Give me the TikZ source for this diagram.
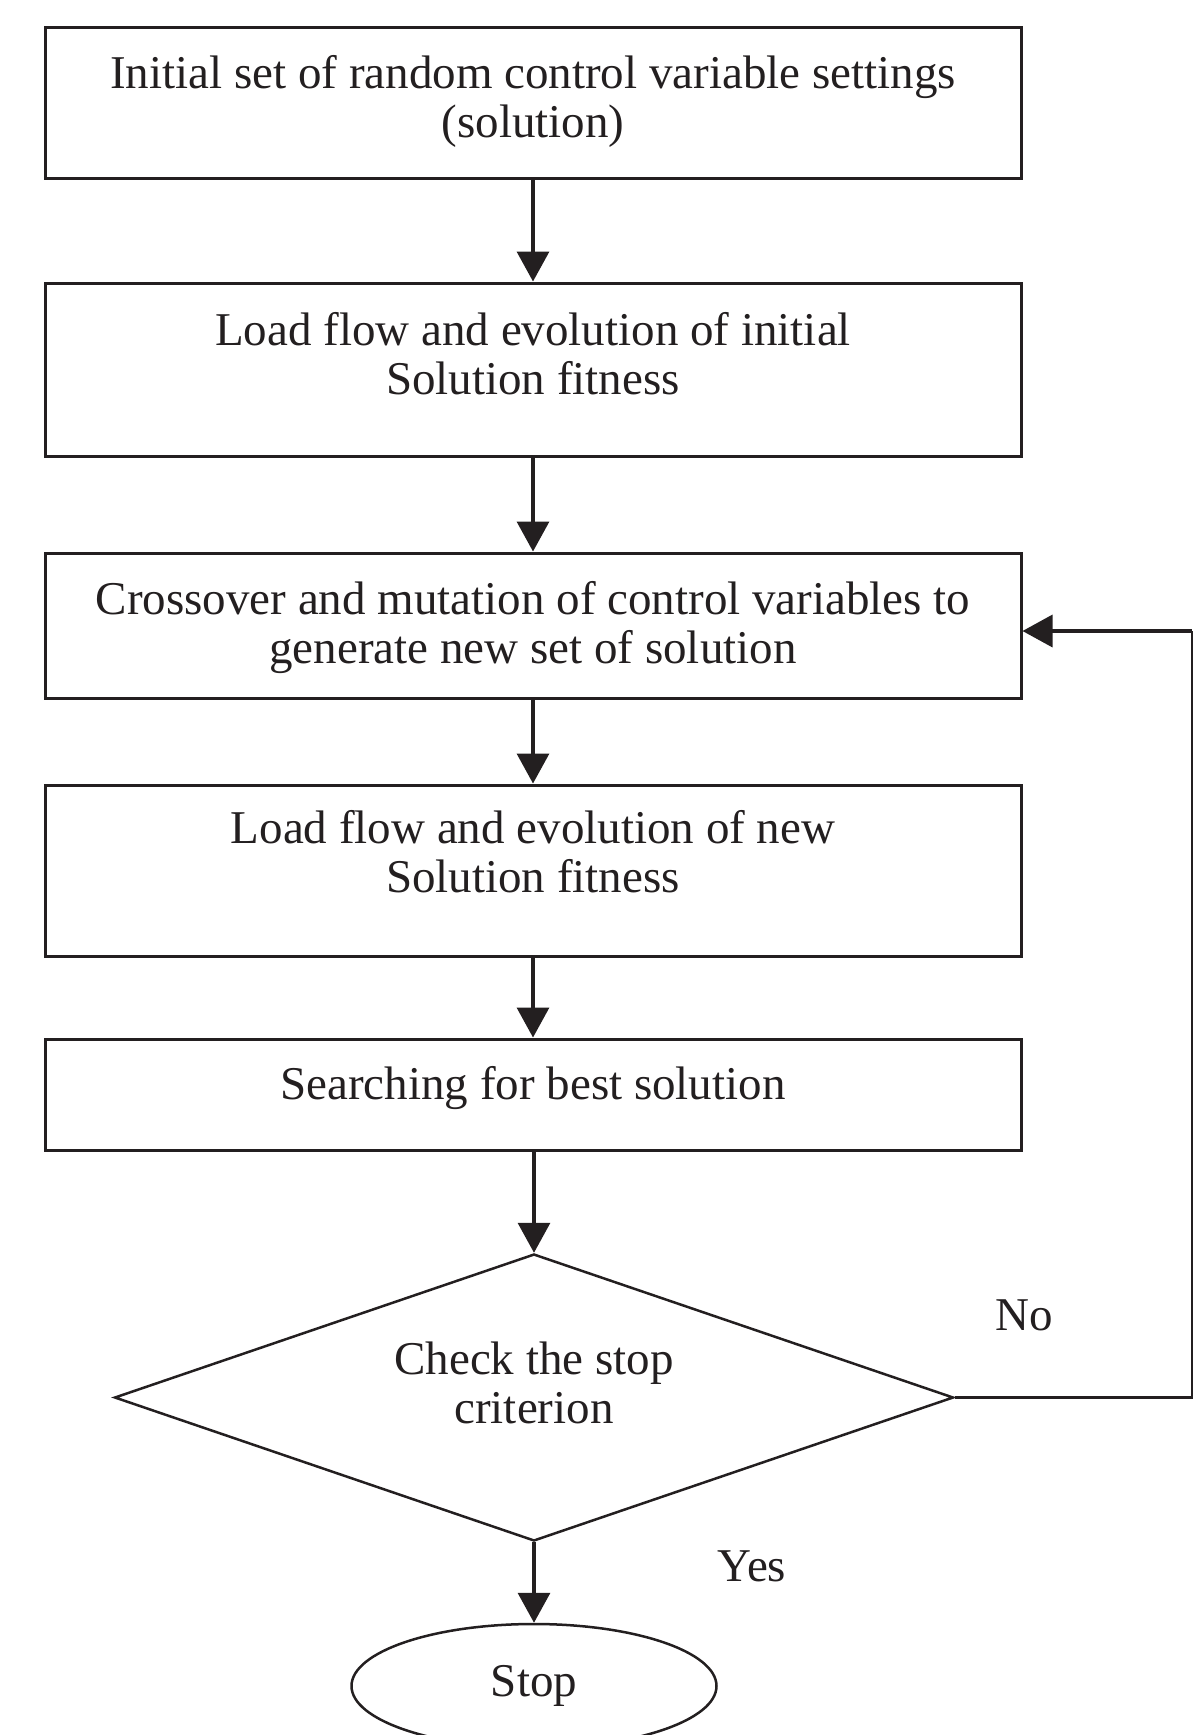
\documentclass[tikz,border=0pt]{standalone}
\usepackage{fontspec}
\setmainfont{Liberation Serif}
\usetikzlibrary{shapes.geometric,arrows.meta}
\definecolor{ink}{HTML}{231F20}
\begin{document}
\begin{tikzpicture}[x=1pt,y=-1pt,
  every node/.style={font=\fontsize{47}{49}\selectfont, text=ink},
  boxnode/.style={draw=ink, line width=3pt, rectangle, minimum width=976pt, inner sep=0pt},
  txt/.style={align=center, inner sep=0pt},
  conn/.style={draw=ink, line width=3.4pt, -{Triangle[length=30pt,width=32pt]}},
  plainline/.style={draw=ink, line width=2.8pt}]
\useasboundingbox (0,0) rectangle (1195,1735);
\node[boxnode, minimum height=151pt] (b1) at (533,102.5) {};
\node[boxnode, minimum height=173pt] (b2) at (533,369.5) {};
\node[boxnode, minimum height=145pt] (b3) at (533,625.5) {};
\node[boxnode, minimum height=171pt] (b4) at (533,870.5) {};
\node[boxnode, minimum height=111pt] (b5) at (533,1094.5) {};
\node[draw=ink, line width=2.5pt, diamond, minimum width=839pt, minimum height=287pt, inner sep=0pt] (d) at (534,1397.5) {};
\node[draw=ink, line width=2.5pt, ellipse, minimum width=365pt, minimum height=124pt, inner sep=0pt] (e) at (534,1686) {};
\node[txt] (t1) at (533,101) {Initial set of random control variable settings\\(solution)};
\node[txt] (t2) at (533,354) {Load flow and evolution of initial\\Solution fitness};
\node[txt] (t3) at (533,628) {Crossover and mutation of control variables to\\generate new set of solution};
\node[txt] (t4) at (533,852) {Load flow and evolution of new\\Solution fitness};
\node[txt] (t5) at (533,1088) {Searching for best solution};
\node[txt] (t6) at (534,1383) {Check the stop\\criterion};
\node[txt] (t7) at (534,1686) {Stop};
\node[txt] (no) at (1024,1315) {No};
\node[txt] (yes) at (752,1566) {Yes};
\coordinate (c1) at (1192,1397.5);
\coordinate (c2) at (1192,631);
\draw[conn] (b1.south) -- (b2.north);
\draw[conn] (b2.south) -- (b3.north);
\draw[conn] (b3.south) -- (b4.north);
\draw[conn] (b4.south) -- (b5.north);
\draw[conn] (b5.south -| d.north) -- (d.north);
\draw[conn] (d.south) -- (e.north);
\draw[plainline] (d.east) -- (c1) -- (c2);
\draw[conn] (c2) -- (b3.east |- c2);
\end{tikzpicture}
\end{document}
